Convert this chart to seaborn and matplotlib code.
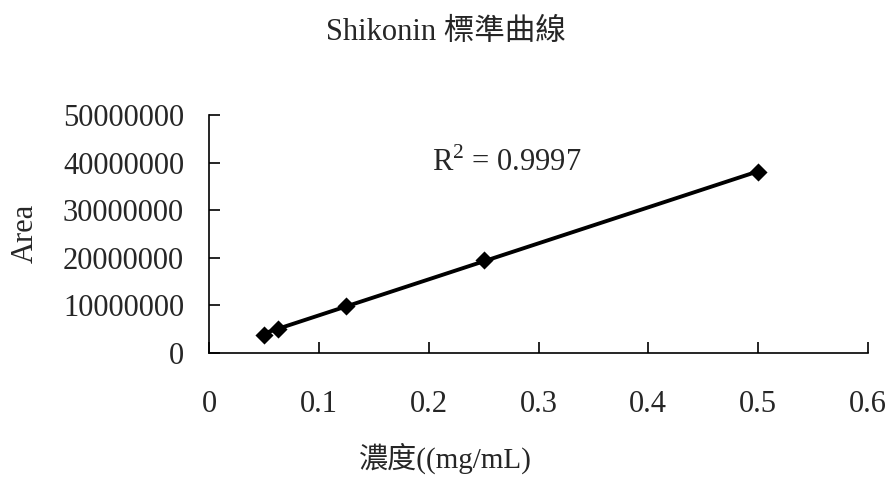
import matplotlib
matplotlib.use("Agg")
import matplotlib.pyplot as plt
import seaborn as sns
import pandas as pd

# Data
concentration = [0.05, 0.0625, 0.125, 0.25, 0.5]
area = [3.8e6, 5.1e6, 9.9e6, 19.6e6, 38.0e6]
x_ticks = [0, 0.1, 0.2, 0.3, 0.4, 0.5, 0.6]
x_tick_labels = ["0", "0.1", "0.2", "0.3", "0.4", "0.5", "0.6"]
y_ticks = [0, 10000000, 20000000, 30000000, 40000000, 50000000]
y_tick_labels = ["0", "10000000", "20000000", "30000000", "40000000", "50000000"]
title = "Shikonin 標準曲線"
x_label = "濃度((mg/mL)"
y_label = "Area"
r2_text = "R$^2$ = 0.9997"

sns.set_theme(style="white")
plt.rcParams["font.family"] = ["Liberation Serif", "Noto Sans CJK TC", "DejaVu Sans"]
plt.rcParams["mathtext.fontset"] = "custom"
plt.rcParams["mathtext.rm"] = "Liberation Serif"

df = pd.DataFrame({"conc": concentration, "area": area})

fig = plt.figure(figsize=(8.91, 4.83), dpi=100)
ax = fig.add_axes([209 / 891, 1 - 353 / 483, (868 - 209) / 891, (353 - 115) / 483])

sns.regplot(data=df, x="conc", y="area", ax=ax, ci=None, color="black",
            marker="D", scatter_kws={"s": 85, "zorder": 3, "linewidths": 0, "alpha": 1},
            line_kws={"lw": 2.8, "zorder": 2})

ax.set_xlim(0, 0.6)
ax.set_ylim(0, 50000000)
ax.set_xticks(x_ticks)
ax.set_xticklabels(x_tick_labels)
ax.set_yticks(y_ticks)
ax.set_yticklabels(y_tick_labels)
ax.set_xlabel("")
ax.set_ylabel("")

for s in ["top", "right"]:
    ax.spines[s].set_visible(False)
for s in ["left", "bottom"]:
    ax.spines[s].set_color("black")
    ax.spines[s].set_linewidth(1.2)

ax.tick_params(axis="x", direction="in", length=8, width=1.2, color="black",
               labelsize=22, pad=27, bottom=True)
ax.tick_params(axis="y", direction="in", length=8, width=1.2, color="black",
               labelsize=22, pad=18, left=True)

ax.text(0.203, 40000000, r2_text, fontsize=22, ha="left", va="center")

fig.text(0.5, 1 - 33 / 483, title, fontsize=22, ha="center", va="center")
fig.text(0.5, 1 - 458 / 483, x_label, fontsize=21, ha="center", va="center")
fig.text(25 / 891, 1 - 233 / 483, y_label, fontsize=22, ha="center", va="center",
         rotation=90)

fig.savefig("out.png", dpi=100, facecolor="white")
